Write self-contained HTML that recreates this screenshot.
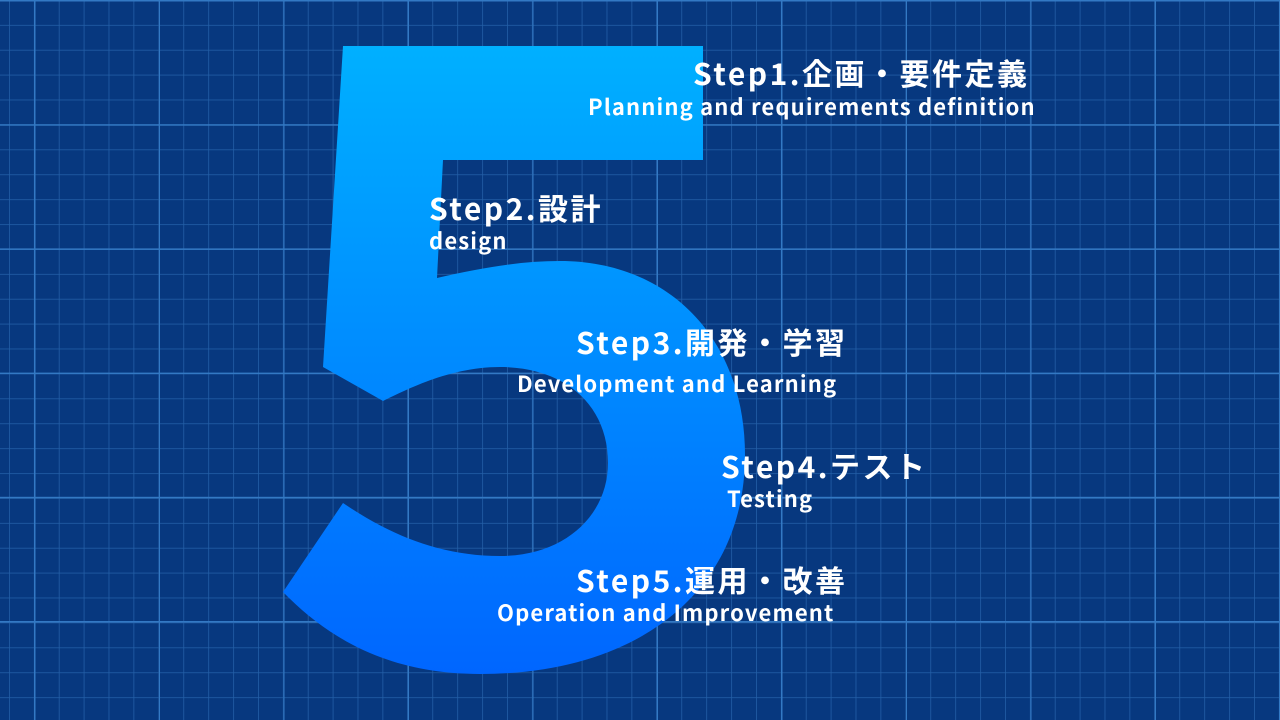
<!DOCTYPE html>
<html><head><meta charset="utf-8"><style>
html,body{margin:0;padding:0;width:1280px;height:720px;overflow:hidden;background:#07387f}
.t{position:absolute;color:#fff;font-family:"Noto Sans CJK JP","Liberation Sans",sans-serif;font-weight:700;white-space:nowrap;line-height:1}
.h{font-size:30px;letter-spacing:2.5px}
.s{font-size:22px;letter-spacing:1.15px}
</style></head><body>
<svg width="1280" height="720" style="position:absolute;left:0;top:0">
<defs>
<pattern id="minor" x="9" y="0" width="24.9" height="24.9" patternUnits="userSpaceOnUse">
<path d="M0,0 V24.9 M0,0 H24.9" stroke="#2460a8" stroke-width="1.5" fill="none"/>
</pattern>
<pattern id="major" x="34" y="0" width="124.5" height="124.2" patternUnits="userSpaceOnUse">
<path d="M0,0 V124.2 M0,0 H124.5" stroke="#3379c4" stroke-width="3" fill="none"/>
</pattern>
<linearGradient id="g" x1="0" y1="0" x2="0" y2="1">
<stop offset="0" stop-color="#00b0ff"/>
<stop offset="1" stop-color="#0066ff"/>
</linearGradient>
</defs>
<rect width="1280" height="720" fill="#07387f"/>
<rect width="1280" height="720" fill="url(#minor)"/>
<rect width="1280" height="720" fill="url(#major)"/>
<path fill="url(#g)" d="M343,46 L703,46 L703,160 L443,160 L437,278 C480,268 520,261 560,261 C670,261 745,340 745,455 C745,590 640,674 480,674 C390,674 330,640 283,592 L343,503 C390,535 440,556 500,556 C565,556 608,515 608,463 C608,405 565,367 500,367 C455,367 415,385 383,401 L323,367 Z"/>
</svg>
<div class="t h" style="left:693px;top:57px">Step1.企画・要件定義</div>
<div class="t s" style="left:588px;top:95px">Planning and requirements definition</div>
<div class="t h" style="left:429px;top:192px">Step2.設計</div>
<div class="t s" style="left:429px;top:229px">design</div>
<div class="t h" style="left:576px;top:326px">Step3.開発・学習</div>
<div class="t s" style="left:517px;top:372px">Development and Learning</div>
<div class="t h" style="left:721px;top:450px">Step4.テスト</div>
<div class="t s" style="left:727px;top:487px">Testing</div>
<div class="t h" style="left:576px;top:564px">Step5.運用・改善</div>
<div class="t s" style="left:497px;top:601px">Operation and Improvement</div>
</body></html>
